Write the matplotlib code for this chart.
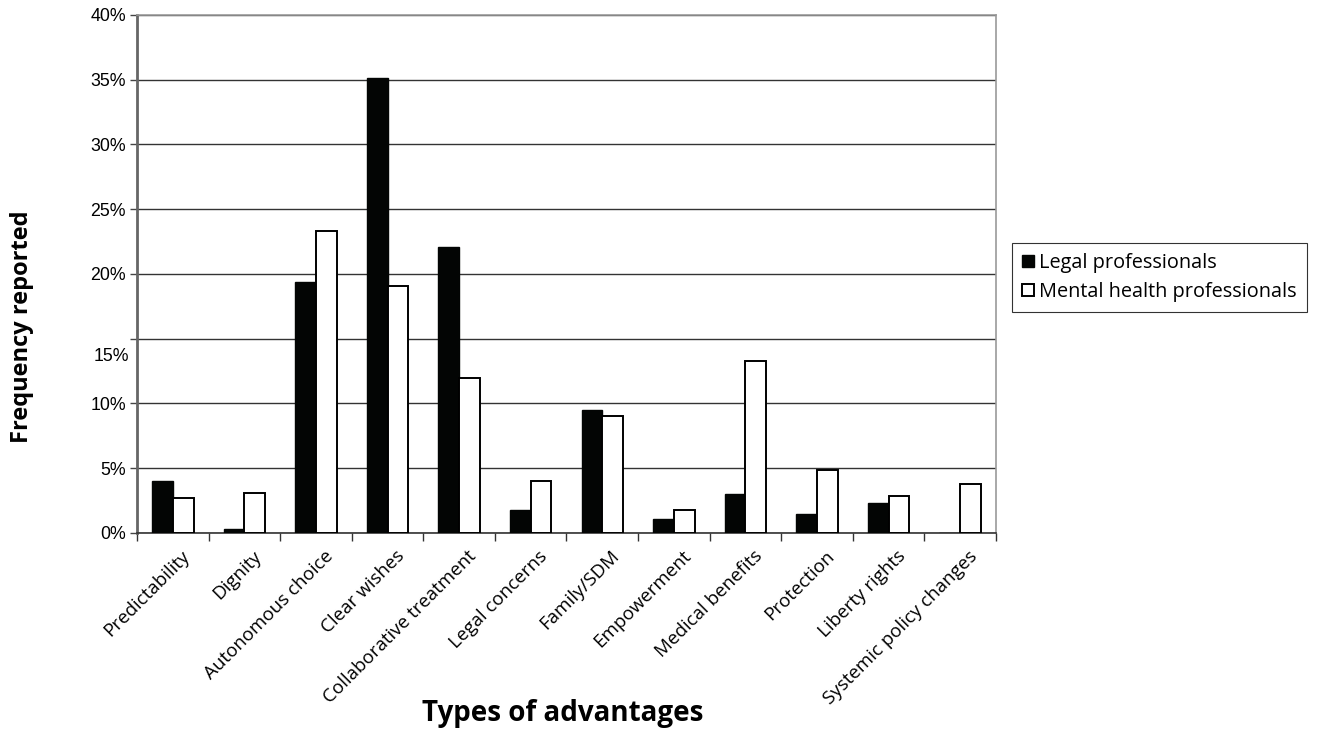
import matplotlib
matplotlib.use("Agg")
import matplotlib.pyplot as plt
import matplotlib.transforms as mtransforms
import numpy as np

plt.rcParams.update({'font.size': 13})

# advantage categories and percentages per group
categories = ["Predictability", "Dignity", "Autonomous choice", "Clear wishes",
              "Collaborative treatment", "Legal concerns", "Family/SDM",
              "Empowerment", "Medical benefits", "Protection", "Liberty rights",
              "Systemic policy changes"]
legal = [4.0, 0.3, 19.4, 35.1, 22.1, 1.8, 9.5, 1.05, 3.0, 1.5, 2.3, 0.0]
mental = [2.7, 3.1, 23.3, 19.1, 12.0, 4.0, 9.0, 1.8, 13.3, 4.85, 2.85, 3.8]
y_ticks = [0, 5, 10, 15, 20, 25, 30, 35, 40]
y_labels = [f"{v}%" for v in y_ticks]

fig = plt.figure(figsize=(13.2, 7.3), dpi=100)
ax = fig.add_axes([0.1038, 0.2699, 0.6507, 0.7096])

x = np.arange(len(categories))
w = 0.29
ax.bar(x - w / 2, legal, w, color='#030504', edgecolor='#030504', linewidth=1,
       label='Legal professionals', zorder=3)
ax.bar(x + w / 2, mental, w, color='white', edgecolor='black', linewidth=1.4,
       label='Mental health professionals', zorder=3)

ax.set_xlim(-0.5, len(categories) - 0.5)
ax.set_ylim(0, 40)

# y axis, label font like Arial
ax.set_yticks(y_ticks)
ax.set_yticklabels(y_labels, family='Liberation Sans', fontsize=12.8)
ax.tick_params(axis='y', length=5, width=1, color='#444444', pad=3)
# the 15% label sits a little low in the original layout
lbl15 = ax.get_yticklabels()[3]
lbl15.set_transform(lbl15.get_transform() +
                    mtransforms.ScaledTranslation(0.03, -0.16, fig.dpi_scale_trans))
ax.yaxis.grid(True, color='#333333', linewidth=1.0, zorder=0)

# category boundaries as major ticks, names on minor ticks
ax.set_xticks(np.arange(-0.5, len(categories), 1.0))
ax.set_xticklabels([])
ax.set_xticks(x, minor=True)
ax.set_xticklabels(categories, minor=True, rotation=45, ha='right',
                   rotation_mode='anchor', family='Open Sans', fontsize=13.5)
ax.tick_params(axis='x', which='major', length=6, width=1, color='#333333')
ax.tick_params(axis='x', which='minor', length=0, pad=10)
for lab in ax.get_xticklabels(minor=True):
    lab.set_transform(lab.get_transform() +
                      mtransforms.ScaledTranslation(0.08, 0.0, fig.dpi_scale_trans))

for side in ['top', 'right']:
    ax.spines[side].set_color('#999999')
    ax.spines[side].set_linewidth(1.2)
ax.spines['left'].set_color('#666666')
ax.spines['left'].set_linewidth(2.0)
ax.spines['bottom'].set_color('#333333')
ax.spines['bottom'].set_linewidth(1.2)

fig.text(0.426, 0.0125, 'Types of advantages', family='Open Sans', fontweight='bold',
         fontsize=20, ha='center', va='baseline')
fig.text(0.017, 0.553, 'Frequency reported', family='Open Sans', fontweight='bold',
         fontsize=17, rotation=90, ha='center', va='center')

leg = ax.legend(loc='center left', bbox_to_anchor=(1.0075, 0.493), frameon=True,
                fancybox=False, edgecolor='black', handlelength=0.6,
                handleheight=0.6, handletextpad=0.25, borderpad=0.5,
                labelspacing=0.45, prop={'family': 'Open Sans', 'size': 14.3})
leg.get_frame().set_linewidth(0.8)

fig.savefig('out.png', dpi=100)
